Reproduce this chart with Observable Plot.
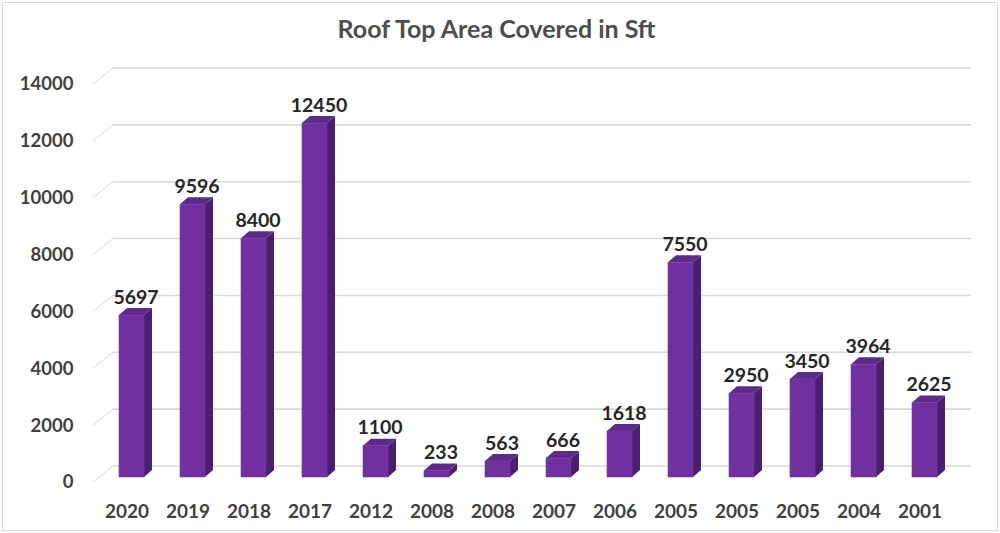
<!DOCTYPE html>
<html>
<head>
<meta charset="utf-8">
<script src="https://cdn.jsdelivr.net/npm/d3@7"></script>
<script src="https://cdn.jsdelivr.net/npm/@observablehq/plot@0.6"></script>
<style>
  html, body { margin: 0; padding: 0; background: #fff; }
  #chart svg { display: block; outline: 1px solid #d9d9d9; outline-offset: -3px; }
</style>
</head>
<body>
<div id="chart"></div>
<script>
const title = "Roof Top Area Covered in Sft";
const years = ["2020","2019","2018","2017","2012","2008","2008","2007","2006","2005","2005","2005","2004","2001"];
const values = [5697, 9596, 8400, 12450, 1100, 233, 563, 666, 1618, 7550, 2950, 3450, 3964, 2625];
const yTicks = [0, 2000, 4000, 6000, 8000, 10000, 12000, 14000];

const data = years.map((year, i) => ({i, year, value: values[i]}));

const FONT = "Lato, 'Open Sans', sans-serif";
const DX = 8, DY = 7;          // bar depth
const GX = 20, GY = 16;        // grid depth (front -> back)
const FRONT = "#7030a0", SIDE = "#4a1f6d", TOP = "#5d2a8c";

// 3D bars, drawn through the plot's scales
function bars3d(index, scales, values_, dims) {
  const {x, y} = scales;
  const bw = x.bandwidth();
  const g = d3.create("svg:g");
  for (const i of index) {
    const d = data[i];
    const x0 = x(d.i), x1 = x0 + bw;
    const y0 = y(0), yv = y(d.value);
    g.append("polygon")
      .attr("points", [[x1, y0], [x1 + DX, y0 - DY], [x1 + DX, yv - DY], [x1, yv]].join(" "))
      .attr("fill", SIDE);
    g.append("polygon")
      .attr("points", [[x0, yv], [x0 + DX, yv - DY], [x1 + DX, yv - DY], [x1, yv]].join(" "))
      .attr("fill", TOP);
    g.append("rect")
      .attr("x", x0).attr("y", yv).attr("width", bw).attr("height", y0 - yv)
      .attr("fill", FRONT).attr("stroke", "#7b3ab0").attr("stroke-width", 0.6);
  }
  return g.node();
}

// back-wall gridlines with the diagonal floor/side lines
function grid3d(index, scales, values_, dims) {
  const {y} = scales;
  const g = d3.create("svg:g").attr("stroke", "#d9d9d9").attr("fill", "none");
  const left = dims.marginLeft, right = dims.width - dims.marginRight;
  for (const t of yTicks) {
    const yb = y(t) - 11;
    g.append("line").attr("x1", left).attr("x2", right).attr("y1", yb).attr("y2", yb).attr("stroke-width", 1.6);
    g.append("line").attr("x1", left - GX).attr("x2", left).attr("y1", yb + GY).attr("y2", yb).attr("stroke-width", 1);
  }
  return g.node();
}

const chart = Plot.plot({
  width: 1000,
  height: 533,
  marginLeft: 113,
  marginRight: 29,
  marginTop: 60,
  marginBottom: 56,
  style: {fontFamily: FONT, background: "#fff"},
  x: {type: "band", domain: d3.range(years.length), range: [99, 957], paddingInner: 0.59, paddingOuter: 0.295, axis: null},
  y: {domain: [0, 14000], range: [477, 79], axis: null},
  marks: [
    Plot.ruleY(yTicks, {y: d => d, strokeOpacity: 0, render: grid3d}),
    Plot.barY(data, {x: "i", y: "value", render: bars3d}),
    Plot.text(data, {
      x: "i", y: "value", text: d => String(d.value),
      dx: 4, dy: -18, fontSize: 19.5, fontWeight: "bold", fill: "#262626"
    }),
    Plot.text(yTicks, {
      y: d => d, text: d => String(d), frameAnchor: "left",
      dx: -40, dy: 5, textAnchor: "end", fontSize: 18.5, fontWeight: "bold", fill: "#404040"
    }),
    Plot.text(data, {
      x: "i", text: "year", frameAnchor: "bottom",
      dx: -5, dy: 40, fontSize: 19, fontWeight: "bold", fill: "#404040"
    }),
    Plot.text([title], {
      text: d => d, frameAnchor: "top", dx: -46, dy: -40,
      fontSize: 25, fontWeight: "bold", fill: "#4d4d4d"
    })
  ]
});

document.getElementById("chart").appendChild(chart);
</script>
</body>
</html>
